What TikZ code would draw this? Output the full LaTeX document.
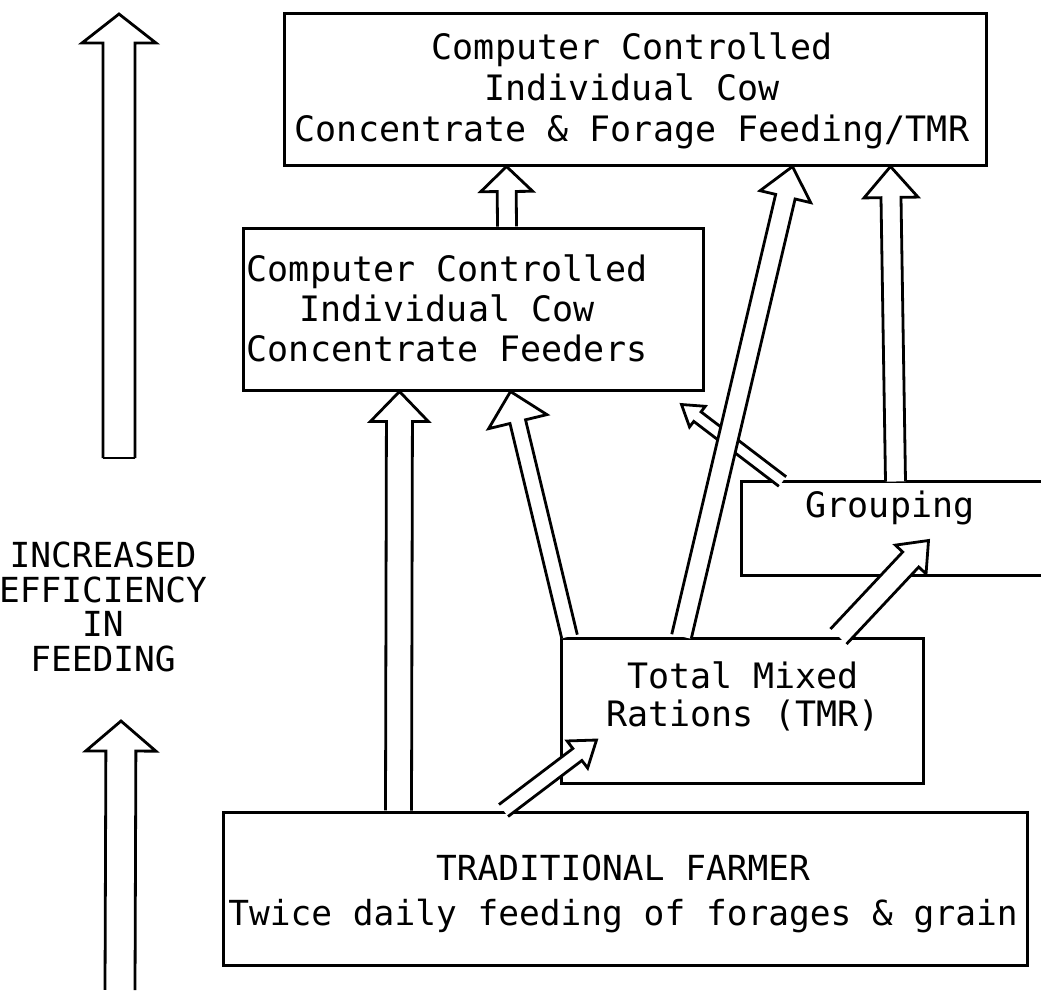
\documentclass[tikz,border=0pt]{standalone}
\usepackage{fontspec}
\newfontfamily\lgfont{DejaVu Sans Mono}
\usetikzlibrary{calc}
\tikzset{
  boxnode/.style={draw, line width=3pt, inner sep=0pt},
  txt/.style={font=\lgfont\fontsize{35}{41}\selectfont, align=center, inner sep=0pt},
  arrowline/.style={draw, line width=2.8pt, fill=white, line join=miter},
}
% hollow arrow: [style]{start}{end}{shaft half width}{head half width}{head length}
\newcommand\harrow[6][]{%
  \coordinate (hb) at ($(#3)!#6!(#2)$);
  \path[arrowline,#1] ($(#2)!#4!90:(#3)$) -- ($(hb)!#4!90:(#3)$) -- ($(hb)!#5!90:(#3)$)
     -- (#3) -- ($(hb)!#5!-90:(#3)$) -- ($(hb)!#4!-90:(#3)$) -- ($(#2)!#4!-90:(#3)$);
}
\begin{document}
\begin{tikzpicture}[x=1pt,y=-1pt]
\useasboundingbox[fill=white] (0,0) rectangle (1041,997);

% boxes
\node[boxnode, minimum width=702pt, minimum height=152pt] (tb) at (635,89) {};
\node[txt] (tbt) at (632,91) {Computer Controlled\\Individual Cow\\Concentrate \& Forage Feeding/TMR};

\node[boxnode, minimum width=460pt, minimum height=162pt] (cf) at (473,309) {};
\node[txt, font=\lgfont\fontsize{35}{40}\selectfont] (cft) at (447,308) {Computer Controlled\\Individual Cow\\Concentrate Feeders};

\node[boxnode, draw=none, minimum width=294pt, minimum height=91pt] (gr) at (890,528.5) {};
\draw[line width=3pt] ([xshift=12pt]gr.north east) -- (gr.north west) -- (gr.south west) -- ([xshift=12pt]gr.south east);
\node[txt] (grt) at (890,508) {Grouping};

\node[boxnode, minimum width=362pt, minimum height=145pt] (tmr) at (742,710.5) {};
\node[txt, font=\lgfont\fontsize{35}{38}\selectfont] (tmrt) at (743,696) {Total Mixed\\Rations (TMR)};

\node[boxnode, minimum width=804pt, minimum height=153pt] (tf) at (625,888.5) {};
\node[txt, font=\lgfont\fontsize{34.5}{45}\selectfont] (tft) at (623,894) {TRADITIONAL FARMER\\Twice daily feeding of forages \& grain};

\node[txt, font=\lgfont\fontsize{34.5}{34.5}\selectfont] (eff) at (103,607) {INCREASED\\EFFICIENCY\\IN\\FEEDING};

% big side arrows
\coordinate (u1s) at (119,458);
\coordinate (u1e) at (119,14);
\harrow{u1s}{u1e}{16pt}{37pt}{29pt}
\draw[line width=2.8pt] ($(u1s)!16pt!90:(u1e)$) -- ($(u1s)!16pt!-90:(u1e)$);
\coordinate (u2s) at (120,990);
\coordinate (u2e) at (121,721);
\harrow{u2s}{u2e}{15pt}{35pt}{30pt}

% connector end points
\coordinate (a0s) at ($(cf.north west)+(265.5,0)$);
\coordinate (a0e) at ($(tb.south west)+(224,0)$);
\coordinate (a1s) at ($(tf.north west)+(177,0)$);
\coordinate (a1e) at ($(cf.south west)+(158,0)$);
\coordinate (a2s) at ($(tmr.north west)+(10,0)$);
\coordinate (a2e) at ($(cf.south west)+(269,0)$);
\coordinate (a3s) at ($(tmr.north west)+(122,0)$);
\coordinate (a3e) at ($(tb.south west)+(510,0)$);
\coordinate (a4s) at ($(gr.north west)+(154,0)$);
\coordinate (a4e) at ($(tb.south west)+(608,0)$);
\coordinate (a5s) at ($(tmr.north west)+(279,0)$);
\coordinate (a5e) at ($(gr.south west)+(187,-35)$);
\coordinate (a6s) at ($(tf.north west)+(282,0)$);
\coordinate (a6e) at ($(tmr.west)+(37,29.5)$);
\coordinate (a7s) at ($(gr.north west)+(41,0)$);
\coordinate (a7e) at ($(cf.south east)+(-23,13)$);

% connectors
\harrow{a7s}{a7e}{6pt}{13pt}{20pt}
\harrow{a0s}{a0e}{9.5pt}{26pt}{25pt}
\harrow{a1s}{a1e}{13pt}{29pt}{30pt}
\harrow{a2s}{a2e}{8pt}{30pt}{31pt}
\harrow{a3s}{a3e}{10pt}{26pt}{31pt}
\harrow{a4s}{a4e}{10pt}{27pt}{31pt}
\harrow{a5s}{a5e}{11pt}{21pt}{26pt}
\harrow{a6s}{a6e}{7.5pt}{17pt}{24pt}
\end{tikzpicture}
\end{document}
